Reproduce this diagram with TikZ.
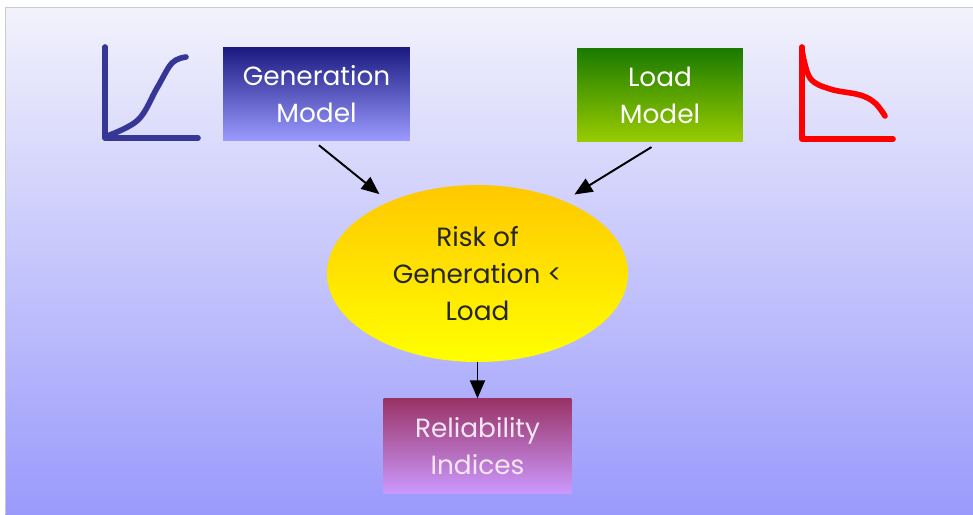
\documentclass[tikz,border=0pt]{standalone}
\usepackage{fontspec}
\setmainfont{Poppins}
\usepackage{xcolor}
\usetikzlibrary{positioning}
\usetikzlibrary{shapes.geometric}
\usetikzlibrary{arrows.meta}
\definecolor{bgtop}{HTML}{F2F2FC}
\definecolor{bgbot}{HTML}{9A9AFC}
\definecolor{gentop}{HTML}{1A1A80}
\definecolor{genbot}{HTML}{9A9AFF}
\definecolor{loadtop}{HTML}{1A7A00}
\definecolor{loadbot}{HTML}{99CC00}
\definecolor{risktop}{HTML}{FFC800}
\definecolor{riskbot}{HTML}{FFFF00}
\definecolor{reltop}{HTML}{993366}
\definecolor{relbot}{HTML}{CC99FF}
\definecolor{genline}{HTML}{363696}
\definecolor{relfont}{HTML}{F4E6F4}

\begin{document}
\begin{tikzpicture}[
		x=0.02cm, y=-0.02cm,
		model/.style={
			rectangle,
			inner sep=0,
			minimum height=1.86cm,
			align=center,
			text=white,
			font=\fontsize{15}{21}\selectfont
		},
		risk/.style={
			ellipse,
			inner sep=0,
			minimum width=6.02cm,
			minimum height=3.54cm,
			align=center,
			text=black!85,
			top color=risktop,
			bottom color=riskbot,
			font=\fontsize{15}{21}\selectfont
		},
		arr/.style={
			-{Triangle[length=0.36cm,width=0.3cm]},
			line width=1.1pt
		},
		icon/.style={
			line width=3.2pt,
			line cap=round,
			line join=round
		}
	]
		\useasboundingbox (0,0) rectangle (973,514);
		\fill[white] (0,0) rectangle (973,514);
		\shade[top color=bgtop, bottom color=bgbot] (5,7) rectangle (973,514);
		\draw[black!20] (973,7) -- (5,7) -- (5,514);
		
		\draw node[model, minimum width=3.74cm, top color=gentop, bottom color=genbot] (Gen) at (316.5,94) {Generation\\ Model};
		\draw node[model, minimum width=3.32cm, top color=loadtop, bottom color=loadbot] (Load) at (660,95) {Load\\ Model};
		\draw node[risk] (Risk) at (477.5,273.5) {Risk of\\ Generation <\\ Load};
		\draw node[model, minimum width=3.76cm, minimum height=1.9cm, top color=reltop, bottom color=relbot, text=relfont, below=0.72cm of Risk] (Rel) {Reliability\\ Indices};
		
		% curves beside the two models
		\draw[icon, genline] (105,47) -- (105,138) -- (198,138);
		\draw[icon, genline] plot[smooth, tension=0.6] coordinates {(107,136) (138,120) (157,88) (172,63) (186,57)};
		\draw[icon, red] (802,47) -- (802,139) -- (893,139);
		\draw[icon, red] plot[smooth, tension=0.6] coordinates {(802,50) (810,78) (830,89) (860,95) (875,103) (885,116)};
		
		\draw[arr, shorten <=0.14cm, shorten >=0.24cm] ([xshift=-0.06cm]Gen.south) -- (Risk.141);
		\draw[arr, shorten <=0.2cm, shorten >=0.24cm] (Load.south) -- (Risk.40);
		\draw[arr] (Risk.south) -- (Rel.north);
	\end{tikzpicture}
\end{document}
